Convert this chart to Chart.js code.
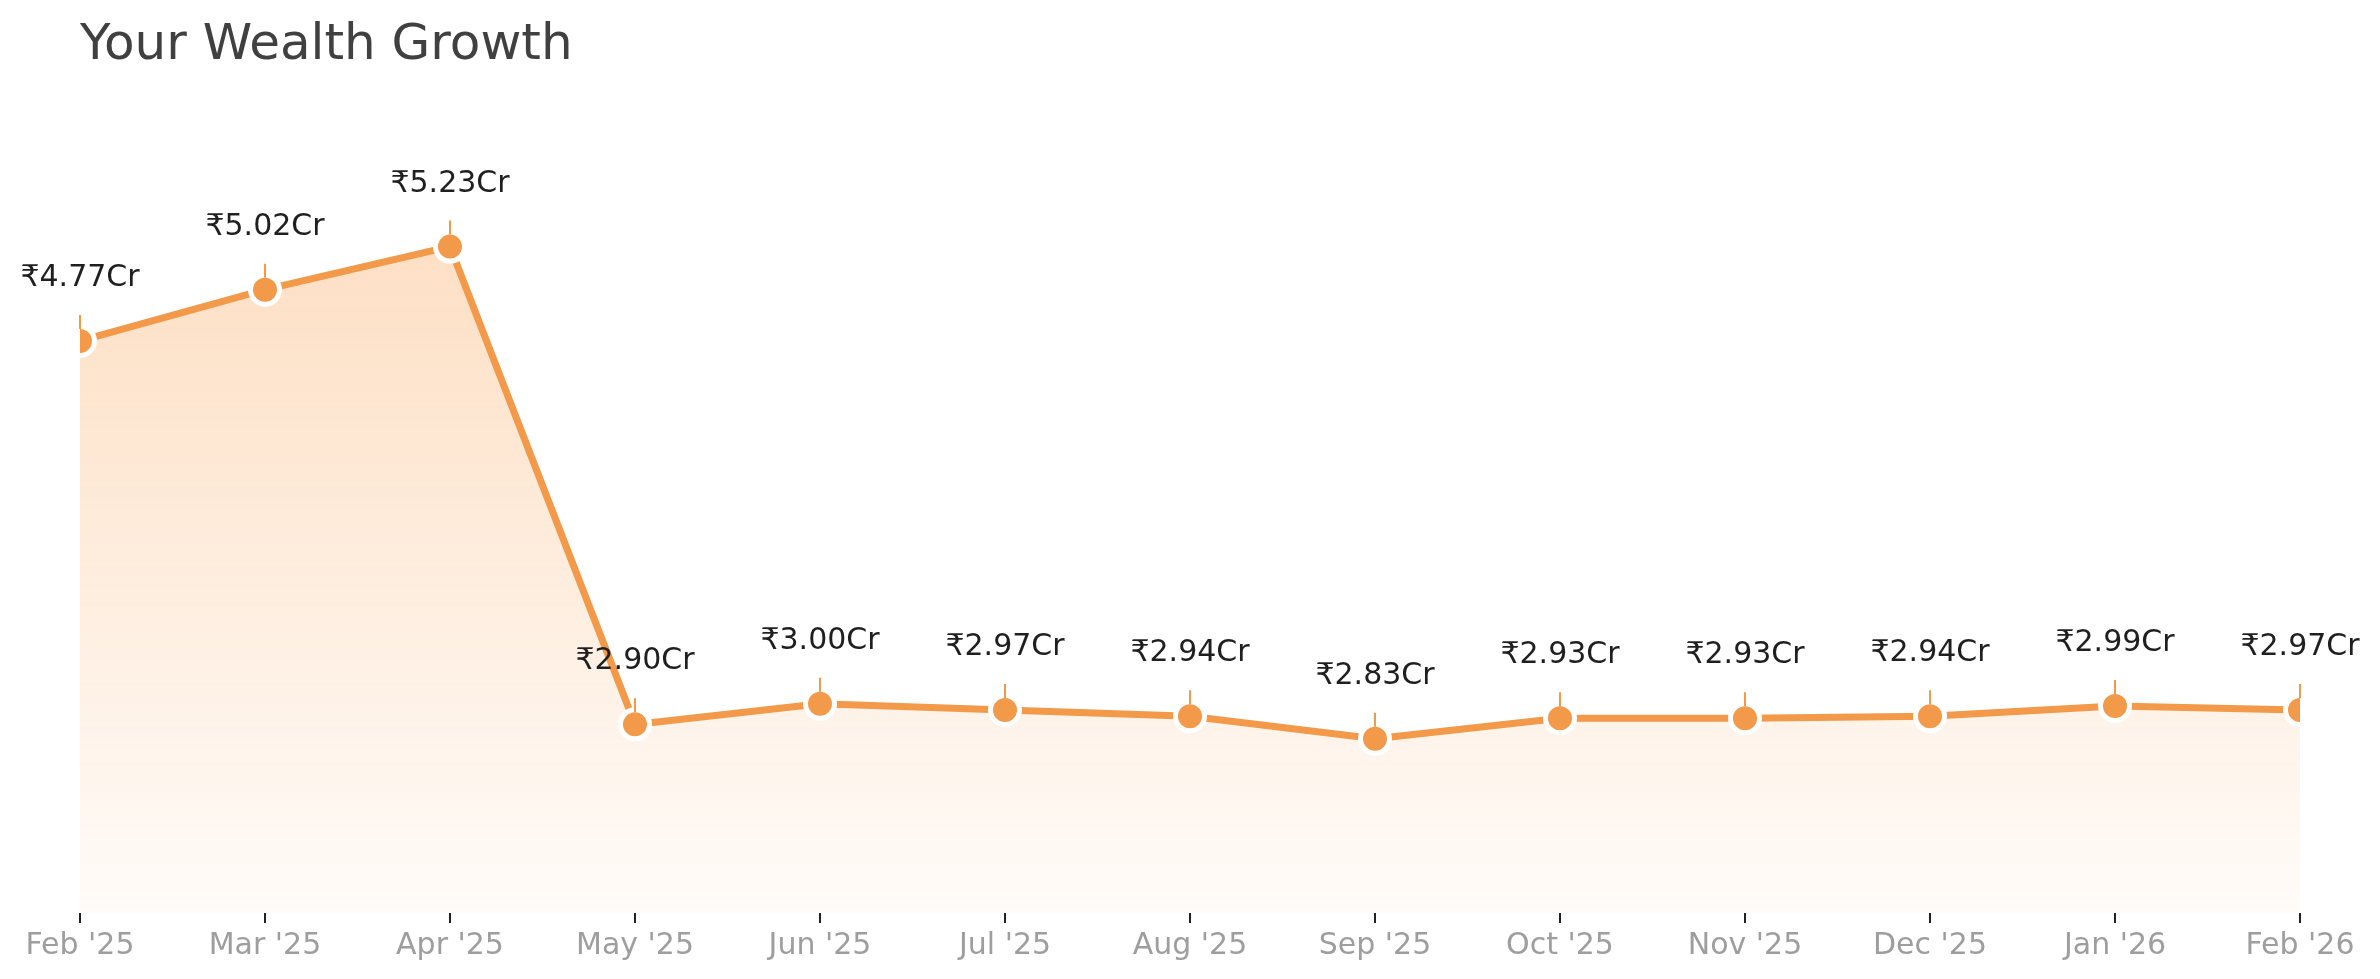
<!DOCTYPE html>
<html>
<head>
<meta charset="utf-8">
<script src="https://cdn.jsdelivr.net/npm/chart.js@4.4.1/dist/chart.umd.min.js"></script>
<style>
  html, body { margin: 0; padding: 0; background: #fff; }
  #wrap { width: 2380px; height: 979px; }
</style>
</head>
<body>
<div id="wrap"><canvas id="wealthChart" width="2380" height="979"></canvas></div>
<script>
// 月ラベルと資産額 (Cr)
const months = ["Feb '25", "Mar '25", "Apr '25", "May '25", "Jun '25", "Jul '25", "Aug '25",
                "Sep '25", "Oct '25", "Nov '25", "Dec '25", "Jan '26", "Feb '26"];
const wealthCr = [4.77, 5.02, 5.23, 2.90, 3.00, 2.97, 2.94, 2.83, 2.93, 2.93, 2.94, 2.99, 2.97];
const yMin = 1.98;
const yMax = 5.75;

const ORANGE = "#F2994A";
const FONT = "'DejaVu Sans', sans-serif";

// 値ラベル + 細い縦線
const valueLabels = {
  id: "valueLabels",
  afterDatasetsDraw(chart) {
    const ctx = chart.ctx;
    const meta = chart.getDatasetMeta(0);
    ctx.save();
    meta.data.forEach((pt, i) => {
      ctx.strokeStyle = ORANGE;
      ctx.lineWidth = 2;
      ctx.beginPath();
      ctx.moveTo(pt.x, pt.y - 12);
      ctx.lineTo(pt.x, pt.y - 26);
      ctx.stroke();

      ctx.fillStyle = "#1f1f1f";
      ctx.font = "30px " + FONT;
      ctx.textAlign = "center";
      ctx.textBaseline = "alphabetic";
      ctx.fillText("₹" + wealthCr[i].toFixed(2) + "Cr", pt.x, pt.y - 55);
    });
    ctx.restore();
  }
};

const ctx = document.getElementById("wealthChart").getContext("2d");
new Chart(ctx, {
  type: "line",
  data: {
    labels: months,
    datasets: [{
      data: wealthCr,
      borderColor: ORANGE,
      borderWidth: 7,
      tension: 0,
      clip: 0,
      fill: "start",
      backgroundColor: (c) => {
        const area = c.chart.chartArea;
        if (!area) return "rgba(250,160,80,0.3)";
        const g = c.chart.ctx.createLinearGradient(0, area.top, 0, area.bottom);
        g.addColorStop(0, "rgba(250,160,80,0.38)");
        g.addColorStop(1, "rgba(250,160,80,0.04)");
        return g;
      },
      pointRadius: 14.5,
      pointBorderWidth: 5,
      pointBackgroundColor: ORANGE,
      pointBorderColor: "#ffffff"
    }]
  },
  options: {
    responsive: false,
    devicePixelRatio: 1,
    animation: false,
    layout: { padding: { left: 80, right: 80, top: 0, bottom: 10 } },
    plugins: {
      legend: { display: false },
      tooltip: { enabled: false },
      title: {
        display: true,
        text: "Your Wealth Growth",
        align: "start",
        color: "#404040",
        font: { family: FONT, size: 50, weight: "normal" },
        padding: { top: 16, bottom: 64 }
      }
    },
    scales: {
      x: {
        offset: false,
        border: { display: false },
        grid: {
          display: true,
          drawOnChartArea: false,
          drawTicks: true,
          tickLength: 10,
          color: "#222",
          lineWidth: 2
        },
        ticks: {
          color: "#9e9e9e",
          padding: 5,
          maxRotation: 0,
          autoSkip: false,
          font: { family: FONT, size: 30 }
        }
      },
      y: {
        display: false,
        min: yMin,
        max: yMax
      }
    }
  },
  plugins: [valueLabels]
});
</script>
</body>
</html>
